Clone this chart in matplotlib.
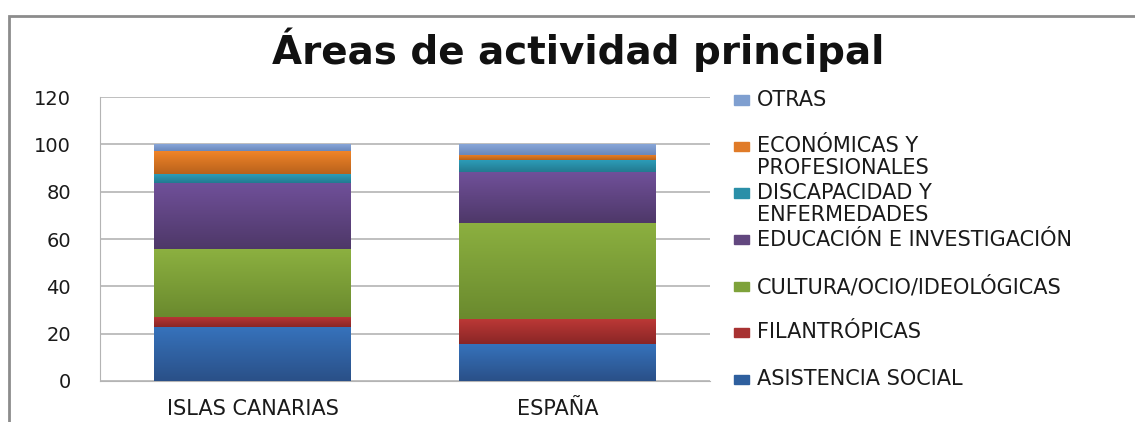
import matplotlib
matplotlib.use("Agg")
import matplotlib.pyplot as plt
import numpy as np
from matplotlib.colors import to_rgb
from matplotlib.patches import Rectangle

# Datos (porcentajes)
categorias = ["ISLAS CANARIAS", "ESPAÑA"]
series = ["ASISTENCIA SOCIAL", "FILANTRÓPICAS", "CULTURA/OCIO/IDEOLÓGICAS",
          "EDUCACIÓN E INVESTIGACIÓN", "DISCAPACIDAD Y\nENFERMEDADES",
          "ECONÓMICAS Y\nPROFESIONALES", "OTRAS"]
asistencia = [22.7, 15.5]
filantropicas = [4.5, 10.5]
cultura = [28.4, 40.8]
educacion = [28.1, 21.4]
discapacidad = [3.8, 5.0]
economicas = [9.6, 2.4]
otras = [2.9, 4.4]
valores = [asistencia, filantropicas, cultura, educacion, discapacidad, economicas, otras]

# colores (arriba, abajo) para el degradado
colores = [("#3672bb", "#2a5088"), ("#bb3836", "#8a2626"), ("#8cb040", "#6a8a2e"),
           ("#70509a", "#4e3868"), ("#2c9cb8", "#237a90"), ("#f08428", "#b8621c"),
           ("#88a6d8", "#6a88bc")]
marcas = ["#2e5f9e", "#a83232", "#7ea23a", "#62477f", "#2a8fa8", "#e07b28", "#7f9fd0"]

W, H = 1135, 422
fig = plt.figure(figsize=(W / 100, H / 100), dpi=100)
ax = fig.add_axes([100 / W, 1 - 381 / H, 610 / W, (381 - 97) / H])

x = np.arange(len(categorias))
base = np.zeros(len(categorias))
for vals, (c1, c2) in zip(valores, colores):
    barras = ax.bar(x, vals, 0.645, bottom=base, color=c1, zorder=2, linewidth=0)
    for b in barras:
        grad = np.linspace(0, 1, 64)[:, None, None]
        img = (1 - grad) * np.array(to_rgb(c1)) + grad * np.array(to_rgb(c2))
        im = ax.imshow(img, extent=(b.get_x(), b.get_x() + b.get_width(),
                                    b.get_y(), b.get_y() + b.get_height()),
                       aspect="auto", origin="upper", zorder=3)
        im.set_clip_path(b)
    base += np.array(vals)

ax.set_xlim(-0.5, 1.5)
ax.set_ylim(0, 120)
ax.set_yticks(range(0, 121, 20))
ax.set_xticks(x)
ax.set_xticklabels(categorias)
ax.yaxis.grid(True, color="#b4b4b4", linewidth=1.2, zorder=0)
ax.set_axisbelow(True)
for s in ["top", "right"]:
    ax.spines[s].set_visible(False)
ax.spines["left"].set_color("#b4b4b4")
ax.spines["bottom"].set_color("#b4b4b4")
ax.tick_params(axis="y", length=0, pad=21, labelsize=14, labelcolor="#1a1a1a")
ax.tick_params(axis="x", length=0, pad=13, labelsize=15, labelcolor="#1a1a1a")

fig.text(578 / W, 1 - 50 / H, "Áreas de actividad principal", ha="center", va="center",
         fontsize=28, fontweight="bold", color="#111111")

# leyenda manual (orden inverso, como en Excel)
for i, (nombre, col) in enumerate(zip(series[::-1], marcas[::-1])):
    yc = 100 + i * 46.5
    fig.patches.append(Rectangle((734 / W, 1 - (yc + 4.5) / H), 15 / W, 9 / H,
                                 transform=fig.transFigure, color=col))
    fig.text(757 / W, 1 - (yc - 10) / H, nombre, ha="left", va="top", fontsize=15,
             color="#1a1a1a", linespacing=1.1)

# marco exterior
fig.patches.append(Rectangle((9 / W, -0.1), 1.2, 1 - 16 / H + 0.1, transform=fig.transFigure,
                             fill=False, edgecolor="#8c8c8c", linewidth=2))

fig.savefig("out.png", dpi=100)
